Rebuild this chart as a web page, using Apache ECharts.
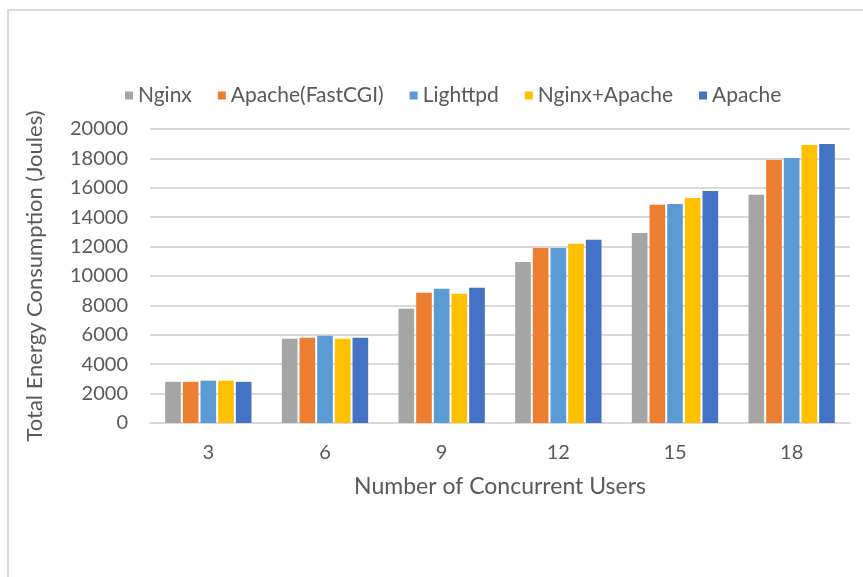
<!DOCTYPE html>
<html>
<head>
<meta charset="utf-8">
<script src="https://cdn.jsdelivr.net/npm/echarts@6/dist/echarts.min.js"></script>
<style>html,body{margin:0;padding:0;background:#fff;}#c{width:863px;height:577px;}</style>
</head>
<body>
<div id="c"></div>
<script>
var categories = ['3', '6', '9', '12', '15', '18'];
var seriesNames = ['Nginx', 'Apache(FastCGI)', 'Lighttpd', 'Nginx+Apache', 'Apache'];
var nginx = [2800, 5730, 7770, 10960, 12930, 15520];
var apacheFastCGI = [2800, 5800, 8860, 11910, 14840, 17890];
var lighttpd = [2880, 5930, 9130, 11910, 14900, 18030];
var nginxApache = [2880, 5730, 8790, 12190, 15310, 18910];
var apache = [2800, 5800, 9200, 12460, 15790, 18980];
var yTicks = {min: 0, max: 20000, interval: 2000};
var colors = ['#A5A5A5', '#ED7D31', '#5B9BD5', '#FFC000', '#4472C4'];

var values = [nginx, apacheFastCGI, lighttpd, nginxApache, apache];
var font = 'Lato';
var chart = echarts.init(document.getElementById('c'), null, {renderer: 'canvas'});
chart.setOption({
  animation: false,
  color: colors,
  textStyle: {fontFamily: font},
  graphic: [{
    type: 'rect', shape: {x: 8, y: 10, width: 900, height: 620},
    style: {fill: 'none', stroke: '#d9d9d9', lineWidth: 2}, silent: true
  }],
  legend: {
    data: seriesNames,
    left: 120, top: 80,
    itemWidth: 8, itemHeight: 8, itemGap: 26,
    icon: 'rect',
    textStyle: {color: '#595959', fontSize: 21, fontFamily: font}
  },
  grid: {left: 150, right: 13, top: 129, bottom: 154, containLabel: false},
  xAxis: {
    type: 'category', data: categories,
    axisLine: {lineStyle: {color: '#d9d9d9', width: 2}},
    axisTick: {show: false},
    axisLabel: {color: '#595959', fontSize: 20, margin: 20, fontFamily: font},
    name: 'Number of Concurrent Users', nameLocation: 'middle', nameGap: 52,
    nameTextStyle: {color: '#595959', fontSize: 23, fontFamily: font}
  },
  yAxis: {
    type: 'value', min: yTicks.min, max: yTicks.max, interval: yTicks.interval,
    axisLine: {show: false}, axisTick: {show: false},
    splitLine: {lineStyle: {color: '#d9d9d9', width: 2}},
    axisLabel: {color: '#595959', fontSize: 20, margin: 22, fontFamily: font,
      formatter: function (v) { return String(v); }},
    name: 'Total Energy Consumption (Joules)', nameLocation: 'middle', nameGap: 104,
    nameTextStyle: {color: '#595959', fontSize: 22, fontFamily: font}
  },
  series: seriesNames.map(function (n, i) {
    return {
      name: n, type: 'bar', data: values[i],
      barGap: '13%', barCategoryGap: '26%'
    };
  })
});
</script>
</body>
</html>
